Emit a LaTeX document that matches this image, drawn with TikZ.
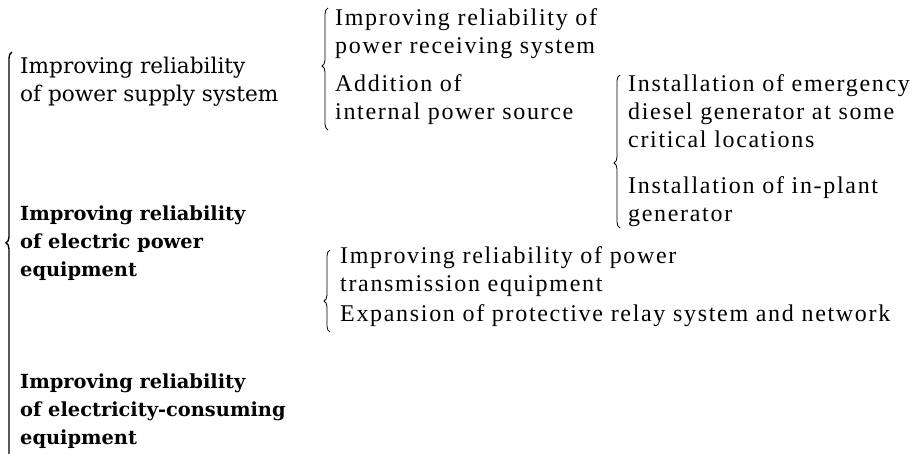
\documentclass[tikz,border=0pt]{standalone}
\usepackage{fontspec}
\setmainfont{DejaVu Serif}
\newfontfamily\slabfont{DejaVu Serif}
\newfontfamily\romfont{Liberation Serif}[LetterSpace=7]
\usetikzlibrary{decorations.pathreplacing}

\tikzset{
  x=1pt, y=-1pt,
  % anchor is the baseline of the last line of each block
  leftitem/.style={anchor=base west, inner sep=0pt, align=left,
    font={\slabfont\fontsize{21.6}{28}\selectfont}},
  leftbold/.style={anchor=base west, inner sep=0pt, align=left,
    font={\slabfont\bfseries\fontsize{19.4}{28}\selectfont}},
  rightitem/.style={anchor=base west, inner sep=0pt, align=left,
    font={\romfont\fontsize{24}{28}\selectfont}},
  curly/.style={draw, line width=0.8pt, decorate,
    decoration={brace, amplitude=6pt, aspect=#1}},
}

\begin{document}
\begin{tikzpicture}
\useasboundingbox (0,0) rectangle (914,453);

% left column: three main measures
\node[leftitem] (supply) at (20,101) {Improving reliability\\of power supply system};
\node[leftbold] (equip) at (20,276) {Improving reliability\\of electric power\\equipment};
\node[leftbold] (consume) at (20,444) {Improving reliability\\of electricity-consuming\\equipment};

% sub-measures of the power supply system
\node[rightitem] (receive) at (335,53) {Improving reliability of\\power receiving system};
\node[rightitem] (internal) at (335,119) {Addition of\\internal power source};

% sub-measures of the internal power source
\node[rightitem] (diesel) at (628,147) {Installation of emergency\\diesel generator at some\\critical locations};
\node[rightitem] (inplant) at (628,221) {Installation of in-plant\\generator};

% sub-measures of the electric power equipment
\node[rightitem] (transm) at (340,291) {Improving reliability of power\\transmission equipment};
\node[rightitem] (relay) at (340,321) {Expansion of protective relay system and network};

% brace end points
\coordinate (mainTop) at (12,52);
\coordinate (mainBot) at (12,460);
\coordinate (supTop) at (328,8);
\coordinate (supBot) at (328,130);
\coordinate (genTop) at (620,75);
\coordinate (genBot) at (620,228);
\coordinate (eqTop) at (330,250);
\coordinate (eqBot) at (330,332);

\draw[curly=0.532, line width=1.4pt] (mainBot) -- (mainTop);
\draw[curly=0.525] (supBot) -- (supTop);
\draw[curly=0.425] (genBot) -- (genTop);
\draw[curly=0.378] (eqBot) -- (eqTop);
\end{tikzpicture}
\end{document}
